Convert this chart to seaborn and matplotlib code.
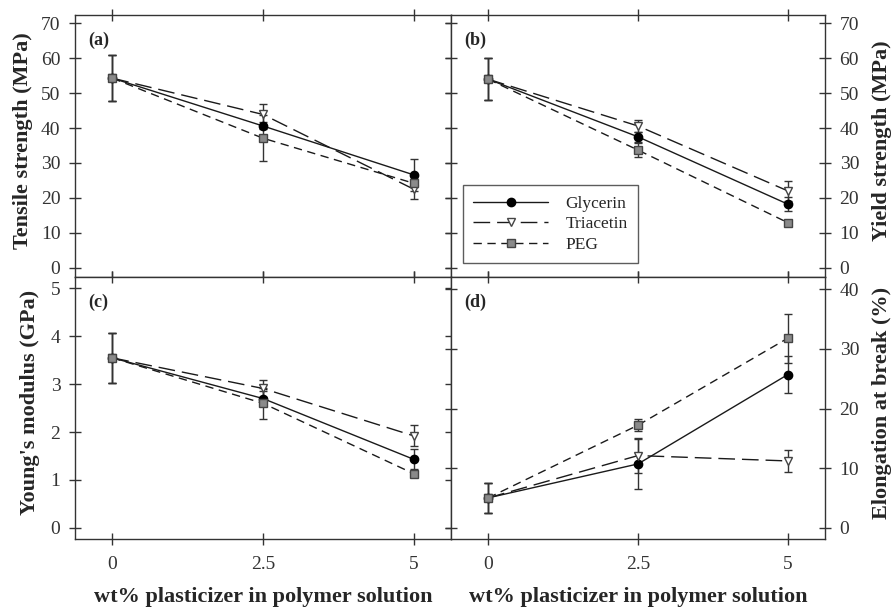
import matplotlib
matplotlib.use("Agg")
import matplotlib.pyplot as plt
import seaborn as sns
import pandas as pd
from matplotlib.lines import Line2D

# ---------------- data ----------------
conc = [0, 2.5, 5]
series = ["Glycerin", "Triacetin", "PEG"]

tensile_gly = [54.3, 40.6, 26.6]
tensile_tri = [54.3, 43.9, 22.5]
tensile_peg = [54.3, 37.1, 24.2]
tensile_gly_err = [6.6, 1.0, 4.5]
tensile_tri_err = [6.6, 2.9, 2.9]
tensile_peg_err = [6.6, 6.6, 1.0]

yield_gly = [54.0, 37.5, 18.2]
yield_tri = [54.0, 40.6, 22.0]
yield_peg = [54.0, 33.7, 12.9]
yield_gly_err = [6.0, 1.5, 2.1]
yield_tri_err = [6.0, 1.6, 2.9]
yield_peg_err = [6.0, 2.0, 0.5]

modulus_gly = [3.55, 2.70, 1.43]
modulus_tri = [3.55, 2.91, 1.92]
modulus_peg = [3.55, 2.60, 1.13]
modulus_gly_err = [0.52, 0.15, 0.21]
modulus_tri_err = [0.52, 0.18, 0.22]
modulus_peg_err = [0.52, 0.33, 0.05]

elong_gly = [5.0, 10.7, 25.7]
elong_tri = [5.0, 12.1, 11.2]
elong_peg = [5.0, 17.2, 31.8]
elong_gly_err = [2.5, 4.2, 3.1]
elong_tri_err = [2.5, 2.9, 1.8]
elong_peg_err = [2.5, 1.05, 4.1]

panels = [
    ("(a)", "Tensile strength (MPa)", [tensile_gly, tensile_tri, tensile_peg],
     [tensile_gly_err, tensile_tri_err, tensile_peg_err], (-2.67, 72.4), [0, 10, 20, 30, 40, 50, 60, 70]),
    ("(b)", "Yield strength (MPa)", [yield_gly, yield_tri, yield_peg],
     [yield_gly_err, yield_tri_err, yield_peg_err], (-2.67, 72.4), [0, 10, 20, 30, 40, 50, 60, 70]),
    ("(c)", "Young's modulus (GPa)", [modulus_gly, modulus_tri, modulus_peg],
     [modulus_gly_err, modulus_tri_err, modulus_peg_err], (-0.236, 5.24), [0, 1, 2, 3, 4, 5]),
    ("(d)", "Elongation at break (%)", [elong_gly, elong_tri, elong_peg],
     [elong_gly_err, elong_tri_err, elong_peg_err], (-1.9, 42.07), [0, 10, 20, 30, 40]),
]
xtick_labels = ["0", "2.5", "5"]
xlabel = "wt% plasticizer in polymer solution"

# ---------------- style ----------------
sns.set_theme(style="ticks")
plt.rcParams["font.family"] = ["Liberation Serif", "DejaVu Serif"]

styles = {
    "Glycerin": dict(marker="o", linestyle="-", markerfacecolor="black", markeredgecolor="black"),
    "Triacetin": dict(marker="v", linestyle=(0, (12, 5)), markerfacecolor="white", markeredgecolor="#444444"),
    "PEG": dict(marker="s", linestyle=(0, (6, 4)), markerfacecolor="#8a8a8a", markeredgecolor="#444444"),
}

fig = plt.figure(figsize=(8.94, 6.10), dpi=100)
W, H = 894, 610
boxes = [(75, 15, 451, 277), (451, 15, 825, 277), (75, 277, 451, 539), (451, 277, 825, 539)]
label_x = [-0.112, 1.126, -0.093, 1.126]
axes = []
for (x0, y0, x1, y1) in boxes:
    axes.append(fig.add_axes([x0 / W, 1 - y1 / H, (x1 - x0) / W, (y1 - y0) / H]))

for i, (ax, (tag, ylab, vals, errs, ylim, yticks)) in enumerate(zip(axes, panels)):
    for name, v, e in zip(series, vals, errs):
        df = pd.DataFrame({"conc": conc, "val": v})
        ax.errorbar(conc, v, yerr=e, fmt="none", ecolor="#333333", elinewidth=1.0,
                    capsize=2.8, capthick=1.0, zorder=2)
        sns.lineplot(data=df, x="conc", y="val", ax=ax, color="#1a1a1a", linewidth=1.0,
                     markersize=6, markeredgewidth=1.0, errorbar=None, zorder=3,
                     **styles[name])
    ax.set_xlim(-0.62, 5.62)
    ax.set_ylim(*ylim)
    ax.set_xticks(conc)
    ax.set_yticks(yticks)
    for sp in ax.spines.values():
        sp.set_visible(True)
        sp.set_linewidth(1.0)
        sp.set_color("#333333")
    ax.tick_params(axis="both", which="both", direction="inout", length=9, width=1.0,
                   color="#333333", top=True, bottom=True, left=True, right=True,
                   labelsize=14, labelcolor="#333333")
    right = i in (1, 3)
    bottom = i in (2, 3)
    ax.tick_params(axis="y", labelleft=not right, labelright=right, pad=6)
    ax.tick_params(axis="x", labelbottom=bottom, labeltop=False, pad=8)
    if bottom:
        ax.set_xticklabels(xtick_labels)
        ax.set_xlabel(xlabel, fontsize=16, fontweight="bold", labelpad=10)
    else:
        ax.set_xlabel("")
    ax.set_ylabel(ylab, fontsize=16, fontweight="bold")
    if right:
        ax.yaxis.set_label_position("right")
    ax.yaxis.set_label_coords(label_x[i], 0.52)
    ax.text(0.035, 0.905, tag, transform=ax.transAxes, fontsize=13, fontweight="bold",
            va="center", ha="left")

handles = [Line2D([], [], color="#1a1a1a", linewidth=1.0, markersize=6, markeredgewidth=1.0,
                  **styles[n]) for n in series]
leg = axes[1].legend(handles, series, loc="lower left", bbox_to_anchor=(0.032, 0.053),
                     borderaxespad=0, fontsize=12.5, handlelength=4.3, handletextpad=1.0,
                     frameon=True, fancybox=False, borderpad=0.6, labelspacing=0.25)
leg.get_frame().set_edgecolor("#333333")
leg.get_frame().set_linewidth(1.0)

fig.savefig("out.png", dpi=100)
